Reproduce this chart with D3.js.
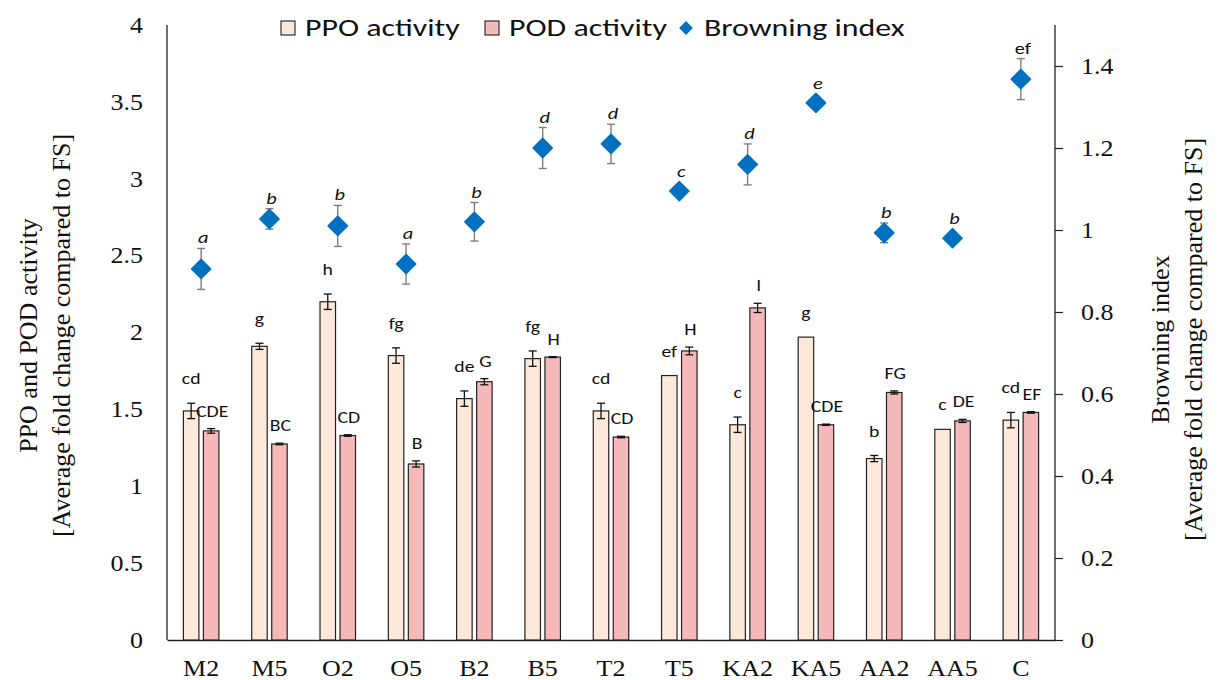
<!DOCTYPE html>
<html>
<head>
<meta charset="utf-8">
<script src="https://cdn.jsdelivr.net/npm/d3@7"></script>
<style>
  body { margin: 0; background: #fff; }
  svg { display: block; }
</style>
</head>
<body>
<script>
//Define SVG width and height
let fullSVGWidth = 1219;
let fullSVGHeight = 680;

//Chart data
const categories = ["M2", "M5", "O2", "O5", "B2", "B5", "T2", "T5", "KA2", "KA5", "AA2", "AA5", "C"];

const ppoValues = [1.49, 1.91, 2.20, 1.85, 1.57, 1.83, 1.49, 1.72, 1.40, 1.97, 1.18, 1.37, 1.43];
const ppoErrors = [0.05, 0.02, 0.05, 0.05, 0.05, 0.05, 0.05, 0, 0.05, 0, 0.02, 0, 0.05];
const ppoLetters = ["cd", "g", "h", "fg", "de", "fg", "cd", "ef", "c", "g", "b", "c", "cd"];

const podValues = [1.36, 1.275, 1.33, 1.145, 1.68, 1.84, 1.32, 1.88, 2.16, 1.40, 1.61, 1.425, 1.48];
const podErrors = [0.015, 0.005, 0.005, 0.02, 0.02, 0.003, 0.005, 0.025, 0.03, 0.004, 0.01, 0.01, 0.005];
const podLetters = ["CDE", "BC", "CD", "B", "G", "H", "CD", "H", "I", "CDE", "FG", "DE", "EF"];

const browningValues = [0.905, 1.027, 1.01, 0.917, 1.02, 1.20, 1.21, 1.095, 1.16, 1.31, 0.993, 0.98, 1.368];
const browningErrors = [0.05, 0.025, 0.05, 0.049, 0.047, 0.05, 0.048, 0, 0.05, 0, 0.024, 0, 0.05];
const browningLetters = ["a", "b", "b", "a", "b", "d", "d", "c", "d", "e", "b", "b", "ef"];

const leftTicks = [0, 0.5, 1, 1.5, 2, 2.5, 3, 3.5, 4];
const rightTicks = [0, 0.2, 0.4, 0.6, 0.8, 1, 1.2, 1.4];

const seriesNames = ["PPO activity", "POD activity", "Browning index"];

//Colours
const ppoColor = "#FDE9D9";
const podColor = "#F4B9B8";
const diamondColor = "#0070C0";

//Define margins
let margins = { top: 25, right: 164, bottom: 40, left: 167 };
let chartWidth = fullSVGWidth - margins.left - margins.right;
let chartHeight = fullSVGHeight - margins.top - margins.bottom;

const serif = "'Liberation Serif', 'Times New Roman', serif";
const sans = "Carlito, Lato, 'Open Sans', sans-serif";

//the source picture is a little stretched sideways, so text is widened to match
function stretch(selection, s) {
    selection.each(function() {
        let t = d3.select(this);
        let tx = +t.attr("x") || 0;
        let ty = +t.attr("y") || 0;
        t.attr("x", 0).attr("y", 0)
            .attr("transform", "translate(" + tx + "," + ty + ") scale(" + s + ",1)");
    });
}

let data = categories.map(function(c, i) {
    return {
        name: c,
        ppo: ppoValues[i], ppoErr: ppoErrors[i], ppoLetter: ppoLetters[i],
        pod: podValues[i], podErr: podErrors[i], podLetter: podLetters[i],
        bi: browningValues[i], biErr: browningErrors[i], biLetter: browningLetters[i]
    };
});

//Scales
let x = d3.scaleBand()
    .domain(categories)
    .range([0, chartWidth]);

let yLeft = d3.scaleLinear()
    .domain([0, 4])
    .range([chartHeight, 0]);

let yRight = d3.scaleLinear()
    .domain([0, 1.5])
    .range([chartHeight, 0]);

let barWidth = 15.5;
let barOffset = 10;

let svg = d3.select("body")
    .append("svg")
    .attr("width", fullSVGWidth)
    .attr("height", fullSVGHeight);

let g = svg.append("g")
    .attr("transform", "translate(" + margins.left + "," + margins.top + ")");

//Axes
let leftAxis = g.append("g")
    .call(d3.axisLeft(yLeft).tickValues(leftTicks).tickSize(0).tickPadding(24)
        .tickFormat(d3.format("")));

let rightAxis = g.append("g")
    .attr("transform", "translate(" + chartWidth + ",0)")
    .call(d3.axisRight(yRight).tickValues(rightTicks).tickSize(8).tickPadding(18)
        .tickFormat(d3.format("")));

let bottomAxis = g.append("g")
    .attr("transform", "translate(0," + chartHeight + ")")
    .call(d3.axisBottom(x).tickSize(0).tickPadding(15));

[leftAxis, rightAxis, bottomAxis].forEach(function(a) {
    a.select(".domain").attr("stroke", "#222").attr("stroke-width", 1.3);
    a.selectAll(".tick line").attr("stroke", "#222").attr("stroke-width", 1.2);
    a.selectAll("text")
        .style("font-family", serif)
        .style("font-size", "23px")
        .attr("fill", "#111");
    stretch(a.selectAll("text"), 1.13);
});
leftAxis.select(".domain").attr("d", "M0," + chartHeight + "V0");
rightAxis.select(".domain").attr("d", "M0," + chartHeight + "V0");
bottomAxis.selectAll("text").attr("dy", "0.9em");

//Bars
let groups = g.selectAll(".group")
    .data(data)
    .enter()
    .append("g")
    .attr("class", "group")
    .attr("transform", function(d) {
        return "translate(" + (x(d.name) + x.bandwidth() / 2) + ",0)";
    });

function drawBar(key, errKey, letterKey, dx, color, labelGap, labelShift) {
    groups.append("rect")
        .attr("x", dx - barWidth / 2)
        .attr("y", function(d) { return yLeft(d[key]); })
        .attr("width", barWidth)
        .attr("height", function(d) { return chartHeight - yLeft(d[key]); })
        .attr("fill", color)
        .attr("stroke", "#222")
        .attr("stroke-width", 1.2);

    let err = groups.filter(function(d) { return d[errKey] > 0; })
        .append("g")
        .attr("stroke", "#111")
        .attr("stroke-width", 1.3);
    err.append("line")
        .attr("x1", dx).attr("x2", dx)
        .attr("y1", function(d) { return yLeft(d[key] + d[errKey]); })
        .attr("y2", function(d) { return yLeft(d[key] - d[errKey]); });
    err.append("line")
        .attr("x1", dx - 4).attr("x2", dx + 4)
        .attr("y1", function(d) { return yLeft(d[key] + d[errKey]); })
        .attr("y2", function(d) { return yLeft(d[key] + d[errKey]); });
    err.append("line")
        .attr("x1", dx - 4).attr("x2", dx + 4)
        .attr("y1", function(d) { return yLeft(d[key] - d[errKey]); })
        .attr("y2", function(d) { return yLeft(d[key] - d[errKey]); });

    let labels = groups.append("text")
        .attr("x", dx + labelShift)
        .attr("y", function(d) { return yLeft(d[key] + d[errKey]) - labelGap; })
        .attr("text-anchor", "middle")
        .style("font-family", sans)
        .style("font-size", "17px")
        .attr("fill", "#111")
        .text(function(d) { return d[letterKey]; });
    stretch(labels, 1.16);
}

drawBar("ppo", "ppoErr", "ppoLetter", -barOffset, ppoColor, 19, 0);
drawBar("pod", "podErr", "podLetter", barOffset, podColor, 12, 1);

//Browning index error bars
let biErr = groups.filter(function(d) { return d.biErr > 0; })
    .append("g")
    .attr("stroke", "#7F7F7F")
    .attr("stroke-width", 1.4);
biErr.append("line")
    .attr("x1", 0).attr("x2", 0)
    .attr("y1", function(d) { return yRight(d.bi + d.biErr); })
    .attr("y2", function(d) { return yRight(d.bi - d.biErr); });
biErr.append("line")
    .attr("x1", -4).attr("x2", 4)
    .attr("y1", function(d) { return yRight(d.bi + d.biErr); })
    .attr("y2", function(d) { return yRight(d.bi + d.biErr); });
biErr.append("line")
    .attr("x1", -4).attr("x2", 4)
    .attr("y1", function(d) { return yRight(d.bi - d.biErr); })
    .attr("y2", function(d) { return yRight(d.bi - d.biErr); });

//Browning index diamonds
let diamond = d3.symbol().type(d3.symbolSquare).size(185);
groups.append("path")
    .attr("d", diamond)
    .attr("transform", function(d) { return "translate(0," + yRight(d.bi) + ") rotate(45)"; })
    .attr("fill", diamondColor)
    .attr("stroke", diamondColor)
    .attr("stroke-width", 1.5)
    .attr("stroke-linejoin", "round");

let biLabels = groups.append("text")
    .attr("x", 2)
    .attr("y", function(d) { return Math.min(yRight(d.bi + d.biErr), yRight(d.bi) - 9) - 5; })
    .attr("text-anchor", "middle")
    .style("font-family", sans)
    .style("font-size", "17px")
    .style("font-style", function(d, i) { return i === categories.length - 1 ? "normal" : "italic"; })
    .attr("fill", "#111")
    .text(function(d) { return d.biLetter; });
stretch(biLabels, 1.2);

//Axis titles
let leftTitle = svg.append("text")
    .attr("transform", "translate(37," + (margins.top + chartHeight / 2 + 3) + ") rotate(-90)")
    .attr("text-anchor", "middle")
    .style("font-family", serif)
    .style("font-size", "26px")
    .attr("fill", "#111");
leftTitle.append("tspan").attr("x", 0).attr("dy", 0).text("PPO and POD activity");
leftTitle.append("tspan").attr("x", 0).attr("dy", 33).text("[Average fold change compared to FS]");

let rightTitle = svg.append("text")
    .attr("transform", "translate(1169," + (margins.top + chartHeight / 2 + 7) + ") rotate(-90)")
    .attr("text-anchor", "middle")
    .style("font-family", serif)
    .style("font-size", "26px")
    .attr("fill", "#111");
rightTitle.append("tspan").attr("x", 0).attr("dy", 0).text("Browning index");
rightTitle.append("tspan").attr("x", 0).attr("dy", 33).text("[Average fold change compared to FS]");

//Legend
let legendItems = [
    { name: seriesNames[0], type: "rect", color: ppoColor, x: 281 },
    { name: seriesNames[1], type: "rect", color: podColor, x: 485 },
    { name: seriesNames[2], type: "diamond", color: diamondColor, x: 678 }
];

let legend = svg.append("g")
    .attr("transform", "translate(0,28)");

let legendItem = legend.selectAll(".legend-item")
    .data(legendItems)
    .enter()
    .append("g")
    .attr("class", "legend-item")
    .attr("transform", function(d) { return "translate(" + d.x + ",0)"; });

legendItem.filter(function(d) { return d.type === "rect"; })
    .append("rect")
    .attr("x", 0).attr("y", -7)
    .attr("width", 14).attr("height", 14)
    .attr("fill", function(d) { return d.color; })
    .attr("stroke", "#333")
    .attr("stroke-width", 1.2);

legendItem.filter(function(d) { return d.type === "diamond"; })
    .append("path")
    .attr("d", d3.symbol().type(d3.symbolSquare).size(95))
    .attr("transform", "translate(8,0) rotate(45)")
    .attr("fill", diamondColor);

let legendText = legendItem.append("text")
    .attr("x", function(d) { return d.type === "rect" ? 24 : 26; })
    .attr("y", 8)
    .style("font-family", sans)
    .style("font-size", "24px")
    .attr("fill", "#111")
    .text(function(d) { return d.name; });
stretch(legendText, 1.33);
</script>
</body>
</html>
